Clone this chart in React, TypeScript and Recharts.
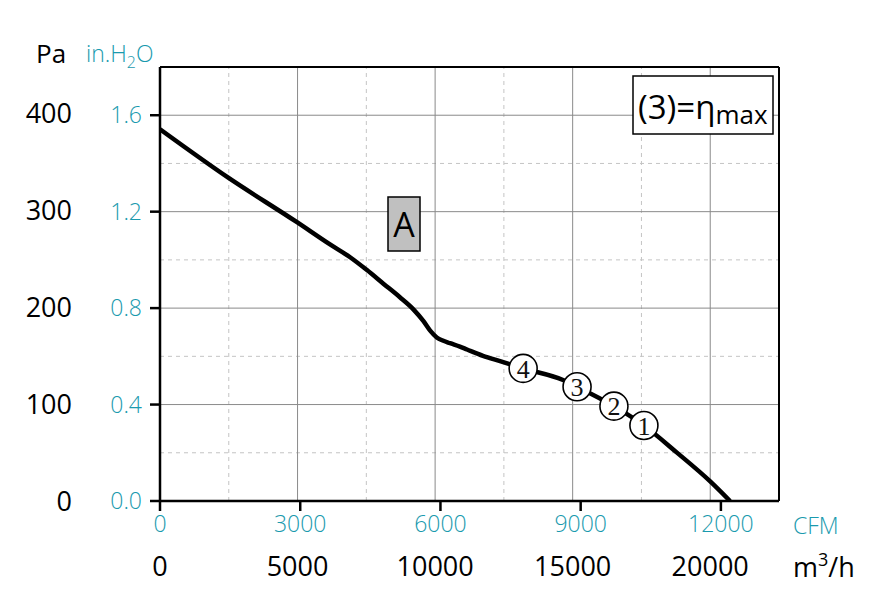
import React from 'react'
import { ComposedChart, Line, Scatter, XAxis, YAxis, ReferenceLine } from 'recharts'

const M3H_PER_CFM = 1.69901
const PA_PER_INH2O = 249.089

// fan curve (m³/h vs Pa)
const flowM3h = [0, 2480, 4980, 6180, 6910, 7510, 8120, 8720, 9210, 9570, 9820, 10060, 10300, 10540, 10900, 11160, 11740, 12360, 13200, 14650, 15160, 16500, 17590, 18790, 19990, 20720]
const pressurePa = [384, 334, 288, 265, 251.8, 238.8, 224.5, 210.5, 198, 186, 176, 169, 165.5, 163, 159.5, 156.5, 150, 144.5, 137, 125, 118, 98, 78, 50, 20.5, 0]

// operating points 1..4
const opLabels = ['4', '3', '2', '1']
const opFlow = [13200, 15160, 16500, 17590]
const opPa = [137, 118, 98, 78]

const cfmTicks = [0, 3000, 6000, 9000, 12000]
const m3hTicks = [0, 5000, 10000, 15000, 20000]
const paTicks = [0, 100, 200, 300, 400]
const inTicks = [0, 0.4, 0.8, 1.2, 1.6]

const gridMajorX = [5000, 10000, 15000, 20000]
const gridMinorX = [2500, 7500, 12500, 17500]
const gridMajorY = [0.4, 0.8, 1.2, 1.6]
const gridMinorY = [0.2, 0.6, 1.0, 1.4]

const X_MAX = 22500
const Y_MAX_IN = 1.8

const TEAL = '#1a9aae'
const FONT = '"Open Sans", "Noto Sans", sans-serif'

const curve = flowM3h.map((f, i) => ({ cfm: f / M3H_PER_CFM, pa: pressurePa[i] }))
const opPoints = opLabels.map((l, i) => ({ flow: opFlow[i], pa: opPa[i], label: l }))

// eslint-disable-next-line @typescript-eslint/no-explicit-any
function OpMarker({ cx, cy, payload }: any) {
  if (cx == null || cy == null) return null
  return (
    <g>
      <circle cx={cx} cy={cy} r={14} fill="#fff" stroke="#000" strokeWidth={1.6} />
      <text x={cx} y={cy} dy="0.36em" textAnchor="middle" fontSize={26} fontFamily='"Liberation Serif", serif' fill="#111">
        {payload.label}
      </text>
    </g>
  )
}

export default function App() {
  return (
    <div style={{ position: 'absolute', left: 0, top: 0, width: 894, height: 599, background: '#fff' }}>
      <ComposedChart width={894} height={599} margin={{ top: 67, right: 115, bottom: 0, left: 0 }}>
        <XAxis
          xAxisId="cfm"
          type="number"
          dataKey="cfm"
          domain={[0, X_MAX / M3H_PER_CFM]}
          allowDataOverflow
          ticks={cfmTicks}
          interval={0}
          height={45}
          axisLine={{ stroke: '#000', strokeWidth: 2.5 }}
          tickLine={{ stroke: '#000', strokeWidth: 2.5 }}
          tickSize={10}
          tickMargin={5}
          tick={{ fill: TEAL, fontSize: 23, fontFamily: FONT, fontWeight: 300 }}
        />
        <XAxis
          xAxisId="m3h"
          type="number"
          dataKey="flow"
          domain={[0, X_MAX]}
          allowDataOverflow
          ticks={m3hTicks}
          interval={0}
          height={53}
          axisLine={false}
          tickLine={false}
          tickSize={0}
          tickMargin={11}
          tick={{ fill: '#000', fontSize: 27, fontFamily: FONT }}
        />
        <YAxis
          yAxisId="in"
          type="number"
          domain={[0, Y_MAX_IN]}
          allowDataOverflow
          ticks={inTicks}
          interval={0}
          width={80}
          tickFormatter={v => Number(v).toFixed(1)}
          axisLine={{ stroke: '#000', strokeWidth: 2.5 }}
          tickLine={{ stroke: '#000', strokeWidth: 2.5 }}
          tickSize={10}
          tickMargin={8}
          tick={{ fill: TEAL, fontSize: 23, fontFamily: FONT, fontWeight: 300 }}
        />
        <YAxis
          yAxisId="pa"
          type="number"
          dataKey="pa"
          domain={[0, Y_MAX_IN * PA_PER_INH2O]}
          allowDataOverflow
          ticks={paTicks}
          interval={0}
          width={80}
          axisLine={false}
          tickLine={false}
          tickSize={8}
          tickMargin={0}
          tick={{ fill: '#000', fontSize: 27, fontFamily: FONT }}
        />

        {gridMinorX.map(v => (
          <ReferenceLine key={'mx' + v} xAxisId="m3h" yAxisId="in" x={v} stroke="#c4c4c4" strokeDasharray="4 4" />
        ))}
        {gridMinorY.map(v => (
          <ReferenceLine key={'my' + v} xAxisId="m3h" yAxisId="in" y={v} stroke="#c4c4c4" strokeDasharray="4 4" />
        ))}
        {gridMajorX.map(v => (
          <ReferenceLine key={'Mx' + v} xAxisId="m3h" yAxisId="in" x={v} stroke="#8a8a8a" />
        ))}
        {gridMajorY.map(v => (
          <ReferenceLine key={'My' + v} xAxisId="m3h" yAxisId="in" y={v} stroke="#8a8a8a" />
        ))}
        <ReferenceLine xAxisId="m3h" yAxisId="in" x={X_MAX} stroke="#000" strokeWidth={2} />
        <ReferenceLine xAxisId="m3h" yAxisId="in" y={Y_MAX_IN} stroke="#000" strokeWidth={2} />

        <Line
          xAxisId="cfm"
          yAxisId="pa"
          data={curve}
          dataKey="pa"
          type="monotone"
          stroke="#000"
          strokeWidth={4.5}
          dot={false}
          activeDot={false}
          isAnimationActive={false}
        />
        <Scatter
          xAxisId="m3h"
          yAxisId="pa"
          data={opPoints}
          dataKey="pa"
          shape={<OpMarker />}
          isAnimationActive={false}
        />
      </ComposedChart>

      <svg width={894} height={599} style={{ position: 'absolute', left: 0, top: 0, pointerEvents: 'none' }}>
        <text x={36} y={63} fontSize={26} fontFamily={FONT} fill="#000">Pa</text>
        <text x={86} y={62} fontSize={23} fontFamily={FONT} fontWeight={300} fill={TEAL}>
          in.H<tspan fontSize={16} dy={6}>2</tspan><tspan dy={-6}>O</tspan>
        </text>
        <text x={793} y={534} fontSize={23} fontFamily={FONT} fontWeight={300} fill={TEAL}>CFM</text>
        <text x={793} y={577} fontSize={27} fontFamily={FONT} fill="#000">
          m<tspan fontSize={18} dy={-11}>3</tspan><tspan dy={11}>/h</tspan>
        </text>

        <rect x={633} y={76} width={140} height={58} fill="#fff" stroke="#000" strokeWidth={1.5} />
        <text x={638} y={119} fontSize={33} fontFamily={FONT} fill="#000">
          (3)=η<tspan fontSize={26} dy={5}>max</tspan>
        </text>

        <rect x={388} y={197} width={32} height={54} fill="#c0c0c0" stroke="#000" strokeWidth={1.5} />
        <text x={404} y={237} textAnchor="middle" fontSize={34} fontFamily={FONT} fill="#000">A</text>
      </svg>
    </div>
  )
}
